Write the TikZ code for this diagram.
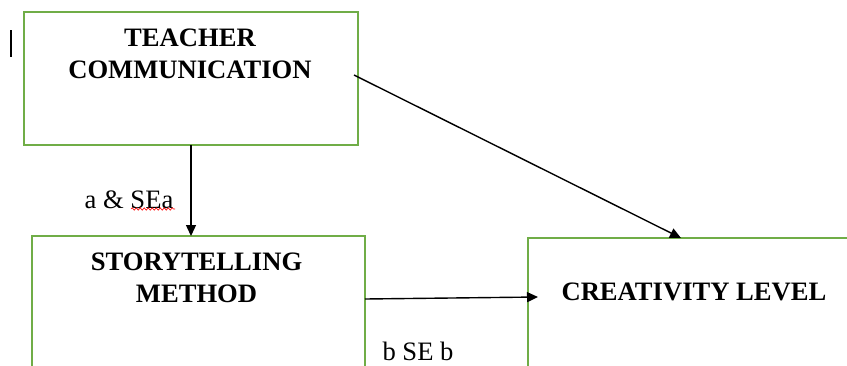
\documentclass[tikz,border=0pt]{standalone}
\usepackage{fontspec}
\setmainfont{Liberation Serif}
\usetikzlibrary{arrows.meta,decorations.pathmorphing}
\definecolor{boxgreen}{RGB}{112,173,71}
\tikzset{
  varbox/.style={draw=boxgreen, line width=1.5pt, rectangle, inner sep=0pt, outer sep=0pt},
  link/.style={line width=1.4pt, -{Triangle[length=11pt,width=10pt]}},
  title/.style={font=\fontsize{26.6}{32}\selectfont\bfseries, align=center},
  coef/.style={font=\fontsize{26.6}{32}\selectfont, inner sep=1pt}
}
\begin{document}
\begin{tikzpicture}[x=1pt,y=-1pt]
            \useasboundingbox (0,0) rectangle (847,365);
            \clip (0,0) rectangle (847,365);
            % boxes
            \node[varbox, minimum width=334pt, minimum height=133pt] (teacher) at (191,78.5) {};
            \node[varbox, minimum width=333pt, minimum height=200pt] (story) at (198.5,336) {};
            \node[varbox, minimum width=372pt, minimum height=200pt] (creativity) at (714,338) {};
            \node[title] (teacherlbl) at (190,54) {TEACHER\\COMMUNICATION};
            \node[title] (storylbl) at (196.5,277.5) {STORYTELLING\\METHOD};
            \node[title] (creativitylbl) at (694,291.5) {CREATIVITY LEVEL};
            % paths
            \draw[link] (teacher.south) -- (teacher.south |- story.north);
            \draw[link] ([xshift=-4pt,yshift=3.5pt]teacher.east) -- ([xshift=153pt]creativity.north west);
            \draw[link] ([yshift=-63pt]story.north east) -- ([xshift=10pt,yshift=-59pt]creativity.north west);
            \node[coef] (alabel) at (129,199.5) {a \& SEa};
            \node[coef] (blabel) at (418,351) {b SE b};
            \draw[red, line width=0.6pt, decorate, decoration={snake, amplitude=1.2pt, segment length=4pt}] (131,209) -- (175,209);
            \draw[line width=1.5pt] (11,30) -- (11,57);
        \end{tikzpicture}
\end{document}
